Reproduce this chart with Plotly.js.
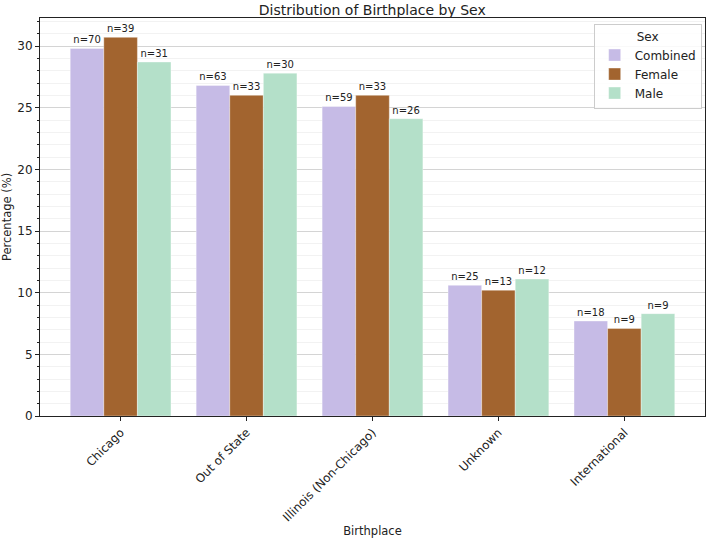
<!DOCTYPE html>
<html>
<head>
<meta charset="utf-8">
<script src="https://cdn.plot.ly/plotly-3.0.1.min.js"></script>
<style>html,body{margin:0;padding:0;background:#fff;}#chart{width:709px;height:540px;}</style>
</head>
<body>
<div id="chart"></div>
<script>
const categories = ["Chicago", "Out of State", "Illinois (Non-Chicago)", "Unknown", "International"];
const combinedPct = [29.8, 26.8, 25.1, 10.6, 7.7];
const femalePct = [30.7, 26.0, 26.0, 10.2, 7.1];
const malePct = [28.7, 27.8, 24.1, 11.1, 8.3];
const combinedN = [70, 63, 59, 25, 18];
const femaleN = [39, 33, 33, 13, 9];
const maleN = [31, 30, 26, 12, 9];

const font = "DejaVu Sans, sans-serif";
function mk(name, y, n, color) {
  return {
    type: "bar", name: name, x: categories, y: y,
    text: n.map(v => "n=" + v), textposition: "outside", cliponaxis: false,
    textfont: {family: font, size: 10, color: "#222"},
    marker: {color: color, line: {color: "rgba(255,255,255,0.6)", width: 0.6}},
    hoverinfo: "x+y+name"
  };
}
const data = [
  mk("Combined", combinedPct, combinedN, "#c6bbe6"),
  mk("Female", femalePct, femaleN, "#a2642f"),
  mk("Male", malePct, maleN, "#b4e0c9")
];
const layout = {
  width: 709, height: 540,
  margin: {l: 40, r: 4, t: 18, b: 124},
  paper_bgcolor: "#fff", plot_bgcolor: "#fff",
  font: {family: font, size: 11, color: "#222"},
  title: {text: "Distribution of Birthplace by Sex", x: 0.525, xanchor: "center", y: 0.982, yanchor: "middle", font: {family: font, size: 14, color: "#222"}},
  barmode: "group", bargap: 0.2, bargroupgap: 0,
  xaxis: {
    type: "category", range: [-0.64, 4.64], tickangle: -45,
    ticks: "outside", ticklen: 4, tickcolor: "#222",
    showline: true, linecolor: "#222", linewidth: 1, mirror: true,
    showgrid: false, tickfont: {family: font, size: 11.8, color: "#222"},
    title: {text: "Birthplace", font: {family: font, size: 11.5, color: "#222"}, standoff: 0}
  },
  yaxis: {
    range: [0, 32.27], dtick: 5, tick0: 0,
    ticks: "outside", ticklen: 4, tickcolor: "#222",
    showline: true, linecolor: "#222", linewidth: 1, mirror: true,
    showgrid: true, gridcolor: "#d4d4d4", gridwidth: 1, zeroline: false,
    minor: {dtick: 1, showgrid: true, gridcolor: "#efefef", gridwidth: 0.8, ticks: "outside", ticklen: 2, tickcolor: "#222"},
    tickfont: {family: font, size: 12, color: "#222"},
    title: {text: "Percentage (%)", font: {family: font, size: 11.5, color: "#222"}, standoff: 6}
  },
  legend: {
    x: 0.995, xanchor: "right", y: 0.985, yanchor: "top",
    bgcolor: "rgba(255,255,255,0.85)", bordercolor: "#ccc", borderwidth: 1,
    font: {family: font, size: 12, color: "#222"},
    title: {text: "Sex", side: "top center", font: {family: font, size: 12, color: "#222"}},
    tracegroupgap: 0
  },
  showlegend: true
};
Plotly.newPlot("chart", data, layout, {displayModeBar: false, staticPlot: true});
</script>
</body>
</html>
